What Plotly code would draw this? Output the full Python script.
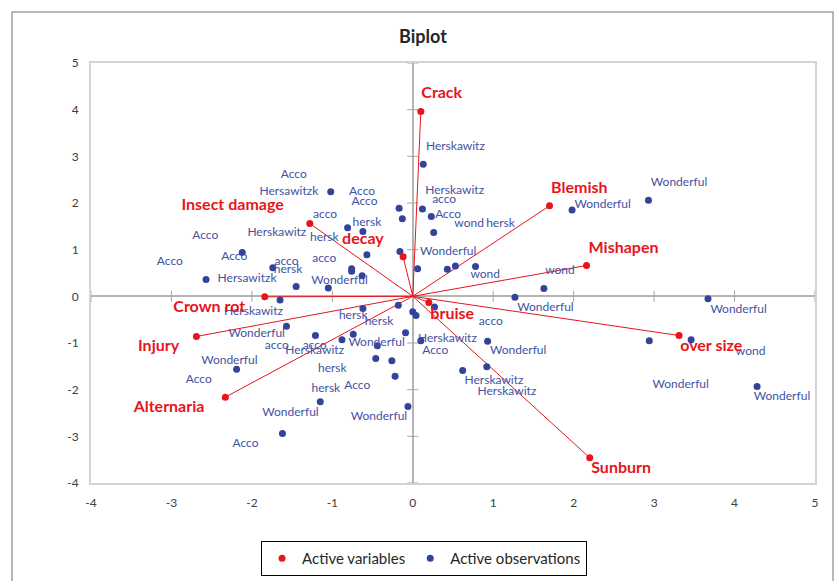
import plotly.graph_objects as go

# ---- Active variables (loadings) ----
var_names = ["Crack", "Blemish", "Mishapen", "Insect damage", "decay", "Crown rot",
             "Injury", "Alternaria", "bruise", "over size", "Sunburn"]
var_x = [0.10, 1.70, 2.16, -1.28, -0.12, -1.84, -2.69, -2.33, 0.20, 3.31, 2.20]
var_y = [3.96, 1.94, 0.66, 1.56, 0.85, -0.01, -0.86, -2.16, -0.13, -0.84, -3.46]
var_lab_x = [0.36, 2.07, 2.62, -2.24, -0.62, -2.53, -3.16, -3.03, 0.49, 3.71, 2.59]
var_lab_y = [4.34, 2.30, 1.02, 1.93, 1.21, -0.25, -1.09, -2.40, -0.39, -1.09, -3.71]

# ---- Active observations (scores) ----
obs_x = [-1.02, -0.17, -0.13, -0.81, -0.62, -0.16, -0.57, -2.12, -1.74, -0.76, -0.76, -0.63,
         -2.57, -1.45, -1.05, 0.13, 0.12, 0.23, 0.26, 0.06, 0.43, 0.53, 0.78, 1.63, 1.98,
         2.93, 3.67, 1.27, 0.27, 0.00, 0.04, 0.10, 0.93, 0.62, 0.92, 2.94, 3.46, 4.28,
         -1.65, -0.62, -0.18, -1.57, -1.21, -0.88, -0.74, -0.44, -0.09, -0.46, -0.26,
         -0.22, -0.06, -1.15, -2.19, -1.62]
obs_y = [2.24, 1.89, 1.66, 1.47, 1.39, 0.96, 0.89, 0.94, 0.61, 0.59, 0.54, 0.44,
         0.36, 0.21, 0.18, 2.83, 1.87, 1.71, 1.37, 0.59, 0.58, 0.65, 0.64, 0.17, 1.85,
         2.06, -0.05, -0.02, -0.23, -0.33, -0.41, -0.95, -0.96, -1.59, -1.51, -0.95, -0.93, -1.93,
         -0.08, -0.26, -0.19, -0.64, -0.84, -0.93, -0.81, -1.06, -0.78, -1.33, -1.38,
         -1.71, -2.36, -2.26, -1.56, -2.94]

# observation labels (as placed in the chart)
obs_labels = ["Acco", "Hersawitzk", "Acco", "Acco", "acco", "hersk", "Acco", "Herskawitz",
              "hersk", "Acco", "Acco", "acco", "acco", "hersk", "Hersawitzk", "Wonderful",
              "Herskawitz", "Herskawitz", "acco", "Acco", "wond", "hersk", "Wonderful", "wond",
              "wond", "Wonderful", "Wonderful",
              "Wonderful", "Wonderful", "acco", "Herskawitz", "Acco", "Wonderful", "wond",
              "Herskawitz", "Herskawitz", "Wonderful", "Wonderful",
              "Herskawitz", "hersk", "hersk", "Wonderful", "acco", "acco", "Herskawitz",
              "Wonderful", "Wonderful", "Acco", "hersk", "hersk", "Acco", "Wonderful",
              "Wonderful", "Acco"]
obs_lab_x = [-1.48, -1.54, -0.63, -0.60, -1.09, -0.57, -2.58, -1.69, -1.10, -2.22, -3.02,
             -1.57, -1.10, -1.55, -2.06, -0.91,
             0.53, 0.52, 0.39, 0.44, 0.70, 1.09, 0.44, 0.90, 1.83, 2.36, 3.31,
             1.65, 4.05, 0.97, 0.43, 0.28, 1.31, 4.20, 1.01, 1.17, 3.33, 4.59,
             -1.98, -0.74, -0.42, -1.94, -1.69, -1.22, -1.22, -0.45, -2.28, -2.66, -1.00,
             -1.08, -0.69, -1.52, -0.42, -2.08]
obs_lab_y = [2.61, 2.23, 2.24, 2.02, 1.75, 1.58, 1.30, 1.35, 1.26, 0.85, 0.73,
             0.74, 0.81, 0.56, 0.38, 0.32,
             3.21, 2.25, 2.07, 1.75, 1.54, 1.54, 0.96, 0.45, 0.55, 1.96, 2.42,
             -0.25, -0.30, -0.56, -0.91, -1.18, -1.18, -1.20, -1.81, -2.04, -1.91, -2.16,
             -0.34, -0.43, -0.55, -0.81, -1.07, -1.06, -1.18, -1.00, -1.38, -1.80, -1.56,
             -1.98, -1.93, -2.50, -2.58, -3.16]

x_ticks = [-4, -3, -2, -1, 0, 1, 2, 3, 4, 5]
y_ticks = [-4, -3, -2, -1, 0, 1, 2, 3, 4, 5]

RED = "#e8141c"
BLUE = "#34439a"
BLUE_TXT = "#4352a3"
FONT = "Lato"

fig = go.Figure()

# tick marks on the zero axes
fig.add_trace(go.Scatter(x=[0] * len(y_ticks), y=y_ticks, mode="markers",
                         marker=dict(symbol="line-ew", size=8, line=dict(color="#a6a6a6", width=1)),
                         showlegend=False, hoverinfo="skip"))
fig.add_trace(go.Scatter(x=x_ticks, y=[0] * len(x_ticks), mode="markers",
                         marker=dict(symbol="line-ns", size=8, line=dict(color="#a6a6a6", width=1)),
                         showlegend=False, hoverinfo="skip"))

# vectors from origin
vx, vy = [], []
for x, y in zip(var_x, var_y):
    vx += [0, x, None]
    vy += [0, y, None]
fig.add_trace(go.Scatter(x=vx, y=vy, mode="lines", line=dict(color=RED, width=1),
                         showlegend=False, hoverinfo="skip"))

# observations
fig.add_trace(go.Scatter(x=obs_x, y=obs_y, mode="markers", name="Active observations",
                         marker=dict(color=BLUE, size=7)))
fig.add_trace(go.Scatter(x=obs_lab_x, y=obs_lab_y, mode="text", text=obs_labels,
                         textfont=dict(family=FONT, size=12, color=BLUE_TXT),
                         showlegend=False, hoverinfo="skip"))

# variables
fig.add_trace(go.Scatter(x=var_x, y=var_y, mode="markers", name="Active variables",
                         marker=dict(color=RED, size=7), text=var_names))
fig.add_trace(go.Scatter(x=var_lab_x, y=var_lab_y, mode="text", text=var_names,
                         textfont=dict(family=FONT, size=16, color=RED, weight="bold"),
                         showlegend=False, hoverinfo="skip"))

axis_common = dict(showgrid=False, zeroline=True, zerolinecolor="#b4b4b4", zerolinewidth=1.5,
                   showline=True, mirror=True, linecolor="#d4d4d4", linewidth=2,
                   ticks="outside", ticklen=8, tickcolor="rgba(0,0,0,0)",
                   tickfont=dict(family=FONT, size=12, color="#404040"), automargin=False)

fig.update_layout(
    width=840, height=581,
    margin=dict(l=91, r=25, t=63, b=98, autoexpand=False),
    paper_bgcolor="white", plot_bgcolor="white",
    title=dict(text="<b>Biplot</b>", x=(423 - 91) / 724, xref="paper", xanchor="center",
               y=1 - 37 / 581, yanchor="middle",
               font=dict(family=FONT, size=18, color="#262626")),
    xaxis=dict(range=[-4, 5], tickvals=x_ticks, ticktext=[str(v) for v in x_ticks], **axis_common),
    yaxis=dict(range=[-4, 5], tickvals=y_ticks, ticktext=[str(v) for v in y_ticks], **axis_common),
    legend=dict(orientation="h", x=0.46, xanchor="center", y=-0.138, yanchor="top",
                bordercolor="#000000", borderwidth=1,
                font=dict(family=FONT, size=15, color="#262626"),
                traceorder="reversed"),
    showlegend=True,
    shapes=[dict(type="rect", xref="paper", yref="paper",
                 x0=(12 - 91) / 724, x1=(833 - 91) / 724,
                 y0=(483 - 600) / 420, y1=(483 - 12) / 420,
                 line=dict(color="#a0a0a0", width=1.5), layer="below")],
)

fig.write_html("out.html")
